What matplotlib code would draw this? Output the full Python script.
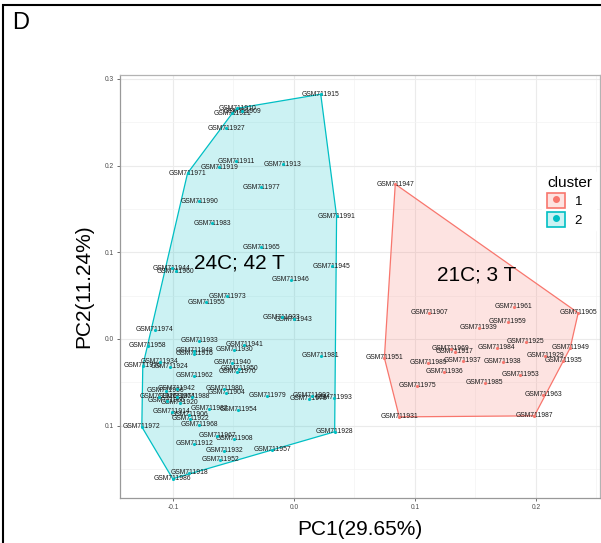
"""PCA 聚类图（panel D）：两簇样本 + 凸包。"""

import matplotlib

matplotlib.use("Agg")
import matplotlib.pyplot as plt
import numpy as np
from matplotlib.lines import Line2D
from matplotlib.patches import Patch, Polygon, Rectangle
from matplotlib.legend_handler import HandlerTuple

plt.rcParams["font.family"] = ["Liberation Sans", "DejaVu Sans"]

# cluster 1 (21C; 3 T)
c1_ids = [1947, 1961, 1905, 1907, 1959, 1939, 1925, 1949, 1984, 1969, 1917, 1951,
          1929, 1989, 1937, 1938, 1935, 1936, 1953, 1975, 1985, 1963, 1931, 1987]
c1_pc1 = [0.0838, 0.1816, 0.2350, 0.1118, 0.1767, 0.1528, 0.1915, 0.2284, 0.1676, 0.1298, 0.1331, 0.0748,
          0.2079, 0.1109, 0.1397, 0.1726, 0.2227, 0.1241, 0.1873, 0.1019, 0.1578, 0.2062, 0.0871, 0.1988]
c1_pc2 = [0.1786, 0.0369, 0.0300, 0.0300, 0.0196, 0.0127, -0.0035, -0.0104, -0.0104, -0.0115, -0.0150, -0.0219,
          -0.0196, -0.0276, -0.0253, -0.0265, -0.0253, -0.0380, -0.0415, -0.0541, -0.0507, -0.0645, -0.0899, -0.0887]

# cluster 2 (24C; 42 T)
c2_ids = [1915, 1910, 1909, 1921, 1927, 1911, 1919, 1913, 1971, 1977,
          1990, 1991, 1983, 1965, 1945, 1944, 1960, 1946, 1973, 1955,
          1923, 1943, 1974, 1933, 1958, 1941, 1930, 1948, 1916, 1981,
          1934, 1976, 1924, 1940, 1950, 1970, 1962, 1942, 1956, 1980,
          1904, 1979, 1926, 1964, 1988, 1966, 1920, 1982, 1954, 1914,
          1906, 1922, 1968, 1972, 1967, 1908, 1992, 1978, 1993, 1928,
          1912, 1932, 1957, 1952, 1918, 1986]
c2_pc1 = [0.0222, -0.0468, -0.0427, -0.0509, -0.0559, -0.0477, -0.0616, -0.0090, -0.0879, -0.0271,
          -0.0781, 0.0353, -0.0674, -0.0271, 0.0312, -0.1011, -0.0978, -0.0025, -0.0551, -0.0723,
          -0.0099, 0.0000, -0.1150, -0.0781, -0.1208, -0.0411, -0.0493, -0.0822, -0.0822, 0.0222,
          -0.1109, -0.1249, -0.1027, -0.0509, -0.0452, -0.0468, -0.0822, -0.0970, -0.1060, -0.0575,
          -0.0559, -0.0222, -0.1118, -0.0970, -0.0846, -0.1052, -0.0945, -0.0698, -0.0460, -0.1011,
          -0.0863, -0.0855, -0.0781, -0.1257, -0.0633, -0.0493, 0.0148, 0.0123, 0.0329, 0.0337,
          -0.0822, -0.0575, -0.0181, -0.0608, -0.0863, -0.1002]
c2_pc2 = [0.2823, 0.2661, 0.2627, 0.2604, 0.2431, 0.2051, 0.1982, 0.2016, 0.1912, 0.1751,
          0.1590, 0.1417, 0.1336, 0.1060, 0.0841, 0.0818, 0.0783, 0.0680, 0.0495, 0.0426,
          0.0253, 0.0230, 0.0104, -0.0023, -0.0081, -0.0069, -0.0127, -0.0138, -0.0173, -0.0196,
          -0.0265, -0.0311, -0.0323, -0.0276, -0.0346, -0.0380, -0.0426, -0.0576, -0.0599, -0.0576,
          -0.0622, -0.0657, -0.0668, -0.0668, -0.0668, -0.0714, -0.0737, -0.0806, -0.0818, -0.0841,
          -0.0876, -0.0922, -0.0991, -0.1014, -0.1118, -0.1152, -0.0657, -0.0691, -0.0680, -0.1071,
          -0.1210, -0.1290, -0.1279, -0.1394, -0.1544, -0.1613]

cluster_labels = ["1", "2"]
cluster_notes = ["21C; 3 T", "24C; 42 T"]
x_ticks = [-0.1, 0.0, 0.1, 0.2]
x_ticklabels = ["-0.1", "0.0", "0.1", "0.2"]
y_ticks = [-0.1, 0.0, 0.1, 0.2, 0.3]
y_ticklabels = ["0.1", "0.0", "0.1", "0.2", "0.3"]

COLORS = ["#F8766D", "#00BFC4"]


def convex_hull(points):
    pts = sorted(map(tuple, points))

    def cross(o, a, b):
        return (a[0] - o[0]) * (b[1] - o[1]) - (a[1] - o[1]) * (b[0] - o[0])

    lower, upper = [], []
    for p in pts:
        while len(lower) >= 2 and cross(lower[-2], lower[-1], p) <= 0:
            lower.pop()
        lower.append(p)
    for p in reversed(pts):
        while len(upper) >= 2 and cross(upper[-2], upper[-1], p) <= 0:
            upper.pop()
        upper.append(p)
    return np.array(lower[:-1] + upper[:-1])


fig = plt.figure(figsize=(6.01, 5.43), dpi=100)
ax = fig.add_axes([120 / 601, 45 / 543, 480 / 601, 423 / 543])

clusters = [
    (c1_ids, c1_pc1, c1_pc2),
    (c2_ids, c2_pc1, c2_pc2),
]
for (ids, xs, ys), color in zip(clusters, COLORS):
    pts = np.column_stack([xs, ys])
    hull = convex_hull(pts)
    ax.add_patch(Polygon(hull, closed=True, facecolor=color, alpha=0.2, edgecolor="none", zorder=1))
    ax.add_patch(Polygon(hull, closed=True, facecolor="none", edgecolor=color, lw=0.9, zorder=2))
    for sid, x, y in zip(ids, xs, ys):
        ax.text(x, y, f"GSM71{sid}", fontsize=4.9, ha="center", va="center", color="#1a1a1a", zorder=3)
    ax.scatter(xs, ys, s=5, color=color, zorder=4, linewidths=0)

ax.text(0.1512, 0.0737, cluster_notes[0], fontsize=15, ha="center", va="center", zorder=5)
ax.text(-0.0452, 0.0876, cluster_notes[1], fontsize=15, ha="center", va="center", zorder=5)

all_x = np.array(c1_pc1 + c2_pc1)
all_y = np.array(c1_pc2 + c2_pc2)
dx = 0.05 * (all_x.max() - all_x.min())
dy = 0.05 * (all_y.max() - all_y.min())
ax.set_xlim(all_x.min() - dx, all_x.max() + dx)
ax.set_ylim(all_y.min() - dy, all_y.max() + dy)

ax.set_xticks(x_ticks)
ax.set_xticklabels(x_ticklabels)
ax.set_yticks(y_ticks)
ax.set_yticklabels(y_ticklabels)
ax.set_xticks([-0.05, 0.05, 0.15, 0.25], minor=True)
ax.set_yticks([-0.15, -0.05, 0.05, 0.15, 0.25], minor=True)
ax.tick_params(which="major", length=2.5, width=0.6, color="#555555", labelsize=4.8,
               labelcolor="#4d4d4d", pad=2)
ax.tick_params(which="minor", length=0)
ax.grid(True, which="major", color="#ebebeb", lw=0.8, zorder=0)
ax.grid(True, which="minor", color="#f3f3f3", lw=0.5, zorder=0)
ax.set_axisbelow(True)
for side, spine in ax.spines.items():
    spine.set_color("#b3b3b3" if side in ("top", "right") else "#999999")
    spine.set_linewidth(0.9)

ax.set_xlabel("PC1(29.65%)", fontsize=15, labelpad=6)
ax.set_ylabel("PC2(11.24%)", fontsize=15, labelpad=8)

handles = [
    (Patch(facecolor=c, alpha=0.2, edgecolor="none"), Patch(facecolor="none", edgecolor=c, lw=1.2),
     Line2D([], [], marker="o", ls="none", color=c, markersize=4))
    for c in COLORS
]
leg = ax.legend(handles, cluster_labels, title="cluster", loc="upper left",
                bbox_to_anchor=(535 / 601, 1 - 164 / 543), bbox_transform=fig.transFigure,
                handler_map={tuple: HandlerTuple(ndivide=1, pad=0)},
                fontsize=9.5, title_fontsize=11, frameon=True, handlelength=1.4,
                handleheight=1.4, labelspacing=0.25, handletextpad=0.7, borderpad=0.4)
leg.get_frame().set_edgecolor("none")
leg.get_frame().set_facecolor("white")
leg.get_frame().set_alpha(1.0)
leg._legend_box.align = "left"

fig.text(12 / 601, 1 - 23 / 543, "D", fontsize=17, ha="left", va="center",
         family=["Liberation Sans Narrow", "Liberation Sans", "DejaVu Sans"])
fig.add_artist(Rectangle((3 / 601, -0.5), 2.0, 1.5 - 5 / 543, transform=fig.transFigure,
                         fill=False, edgecolor="black", lw=1.5, clip_on=False))

fig.savefig("out.png", dpi=100)
plt.close(fig)
